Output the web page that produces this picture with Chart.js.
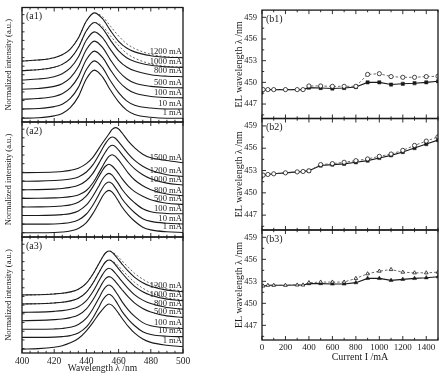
<!DOCTYPE html>
<html><head><meta charset="utf-8">
<script src="https://cdn.jsdelivr.net/npm/chart.js@4.4.0/dist/chart.umd.min.js"></script>
<style>
html,body{margin:0;padding:0;background:#fff;}
#wrap{position:relative;width:445px;height:378px;overflow:hidden;background:#fff;}
canvas{position:absolute;left:0;top:0;width:445px;height:378px;}
</style>
</head><body><div id="wrap">
<canvas id="a1" width="445" height="378"></canvas>
<canvas id="a2" width="445" height="378"></canvas>
<canvas id="a3" width="445" height="378"></canvas>
<canvas id="b1" width="445" height="378"></canvas>
<canvas id="b2" width="445" height="378"></canvas>
<canvas id="b3" width="445" height="378"></canvas>
</div>
<script>
// ---------- spectra (a1) ----------
const a1Wavelength = [400,410,420,425,430,435,440,445,450,455,460,465,470,480,490,500];
const a1Labels = ['1200 mA','1000 mA','800 mA','500 mA','100 mA','10 mA','1 mA'];
const a1_1200 = [6.39,6.49,6.74,7.05,7.65,8.81,10.58,11.44,10.83,9.57,8.46,7.75,7.35,6.95,6.79,6.74];
const a1_1000 = [5.38,5.48,5.73,6.04,6.64,7.80,9.57,10.43,9.82,8.56,7.45,6.74,6.34,5.94,5.78,5.73];
const a1_800  = [4.40,4.50,4.75,5.06,5.66,6.82,8.59,9.45,8.84,7.58,6.47,5.76,5.36,4.96,4.80,4.75];
const a1_500  = [3.43,3.51,3.73,4.01,4.62,5.78,7.60,8.48,7.82,6.49,5.32,4.54,4.09,3.73,3.61,3.58];
const a1_100  = [2.38,2.46,2.68,2.96,3.57,4.73,6.55,7.43,6.77,5.44,4.27,3.49,3.04,2.68,2.56,2.53];
const a1_10   = [1.36,1.41,1.61,1.87,2.47,3.63,5.50,6.41,5.70,4.29,3.08,2.22,1.76,1.46,1.36,1.36];
const a1_1    = [0.39,0.44,0.64,0.90,1.50,2.66,4.53,5.44,4.73,3.32,2.11,1.25,0.79,0.49,0.39,0.39];
const a1_1200dash = [6.39,6.49,6.74,7.05,7.65,8.81,10.58,11.44,11.04,10.03,9.02,8.21,7.70,7.10,6.84,6.77];
const a1_1000dash = [5.38,5.48,5.73,6.04,6.64,7.80,9.57,10.43,10.03,9.02,8.01,7.20,6.69,6.09,5.83,5.76];

// ---------- spectra (a2) ----------
const a2Wavelength = [400,410,420,425,430,435,440,444,448,450,452,454,456,458,460,462,466,470,475,480,490,500];
const a2Labels = ['1500 mA','1200 mA','1000 mA','800 mA','500 mA','100 mA','10 mA','1 mA'];
const a2_1500 = [6.71,6.73,6.78,6.83,6.95,7.18,7.65,8.31,9.30,9.81,10.28,10.75,11.22,11.41,11.27,10.89,10.00,9.30,8.64,8.26,7.98,7.74];
const a2_1200 = [5.81,5.83,5.89,5.95,6.06,6.27,6.78,7.52,8.63,9.24,9.79,10.25,10.44,10.30,9.93,9.51,8.68,7.99,7.38,6.97,6.50,6.32];
const a2_1000 = [4.92,4.94,5.00,5.06,5.18,5.39,5.90,6.64,7.76,8.36,8.92,9.38,9.57,9.43,9.06,8.64,7.80,7.11,6.50,6.08,5.62,5.43];
const a2_800  = [4.03,4.04,4.08,4.12,4.21,4.39,4.85,5.63,6.77,7.36,7.95,8.41,8.59,8.41,8.04,7.59,6.67,5.95,5.35,4.94,4.49,4.30];
const a2_500  = [3.13,3.14,3.18,3.24,3.35,3.62,4.29,5.23,6.39,6.97,7.41,7.59,7.41,7.05,6.61,6.12,5.32,4.74,4.25,3.89,3.53,3.40];
const a2_100  = [2.24,2.24,2.28,2.33,2.44,2.72,3.34,4.26,5.41,6.02,6.46,6.64,6.46,6.02,5.54,5.01,4.18,3.56,2.94,2.64,2.46,2.42];
const a2_10   = [1.34,1.34,1.36,1.41,1.52,1.78,2.40,3.32,4.51,5.12,5.56,5.74,5.56,5.12,4.60,4.02,3.19,2.53,1.91,1.63,1.43,1.36];
const a2_1    = [0.45,0.45,0.47,0.52,0.63,0.89,1.51,2.44,3.63,4.25,4.69,4.87,4.69,4.25,3.72,3.15,2.31,1.64,1.02,0.74,0.54,0.47];

// ---------- spectra (a3) ----------
const a3Wavelength = [400,410,420,425,430,435,440,444,448,450,452,454,456,458,460,462,466,470,475,480,490,500];
const a3Labels = ['1200 mA','1000 mA','800 mA','500 mA','100 mA','10 mA','1 mA'];
const a3_1200 = [6.00,6.03,6.11,6.18,6.32,6.59,7.23,8.14,9.32,9.91,10.37,10.55,10.41,10.05,9.64,9.23,8.46,7.82,7.27,6.91,6.50,6.34];
const a3_1000 = [5.07,5.10,5.18,5.25,5.39,5.66,6.30,7.21,8.39,8.98,9.44,9.62,9.48,9.12,8.71,8.30,7.53,6.89,6.34,5.98,5.57,5.41];
const a3_800  = [4.20,4.23,4.31,4.38,4.52,4.79,5.43,6.34,7.52,8.11,8.57,8.76,8.61,8.25,7.84,7.43,6.66,6.02,5.47,5.11,4.70,4.54];
const a3_500  = [3.34,3.37,3.45,3.52,3.66,3.93,4.57,5.48,6.66,7.25,7.71,7.90,7.75,7.39,6.98,6.57,5.80,5.16,4.61,4.25,3.84,3.68];
const a3_100  = [2.45,2.45,2.49,2.54,2.66,2.95,3.60,4.56,5.75,6.39,6.85,7.03,6.85,6.39,5.89,5.34,4.47,3.78,3.14,2.82,2.61,2.54];
const a3_10   = [1.62,1.62,1.64,1.69,1.80,2.07,2.69,3.62,4.82,5.45,5.89,6.07,5.89,5.45,4.91,4.33,3.49,2.82,2.20,1.91,1.73,1.69];
const a3_1    = [0.40,0.45,0.60,0.75,1.05,1.50,2.30,3.15,4.10,4.50,4.88,5.07,4.92,4.55,4.10,3.62,2.75,2.05,1.45,1.10,0.80,0.65];
const a3_1200dash = [6.00,6.03,6.11,6.18,6.32,6.59,7.23,8.14,9.32,9.91,10.37,10.55,10.46,10.23,9.91,9.55,8.87,8.23,7.64,7.18,6.64,6.41];
const a3_1000dash = [5.07,5.10,5.18,5.25,5.39,5.66,6.30,7.21,8.39,8.98,9.44,9.62,9.53,9.30,8.98,8.62,7.94,7.30,6.71,6.25,5.71,5.48];

// ---------- EL peak wavelength vs current (b1-b3) ----------
const bCurrent = [1,10,50,100,200,300,350,400,500,600,700,800,900,1000,1100,1200,1300,1400,1500];
const bXTicks = [0,200,400,600,800,1000,1200,1400];
const bYTicks = [447,450,453,456,459];
const b1Open   = [448.3,449.0,449.0,449.0,449.0,449.0,449.0,449.5,449.5,449.45,449.45,449.45,451.1,451.2,450.8,450.7,450.7,450.8,450.85];
const b1Filled = [448.3,449.0,449.0,449.0,449.0,449.0,449.0,449.27,449.22,449.15,449.22,449.35,450.0,450.0,449.7,449.8,449.88,450.0,450.15];
const b2Open   = [451.9,452.38,452.47,452.56,452.69,452.82,452.87,452.96,453.8,453.93,454.11,454.33,454.56,454.91,455.22,455.71,456.38,456.96,457.53];
const b2Filled = [451.9,452.38,452.47,452.56,452.69,452.82,452.87,452.96,453.67,453.8,453.89,454.11,454.33,454.69,455.04,455.49,456.02,456.56,457.09];
const b3Open   = [452.15,452.37,452.46,452.46,452.46,452.5,452.5,452.82,452.9,452.9,452.9,453.4,454.03,454.39,454.61,454.25,454.16,454.16,454.25];
const b3Filled = [452.15,452.37,452.46,452.46,452.46,452.5,452.5,452.69,452.69,452.64,452.64,452.82,453.4,453.4,453.13,453.27,453.4,453.49,453.63];

Chart.defaults.font.family = '"Liberation Serif","DejaVu Serif",serif';
Chart.defaults.color = '#222';
const INK = '#1a1a1a';

function pts(xs, ys) { return xs.map((x, i) => ({x: x, y: ys[i]})); }

const frameTicks = {
  id: 'frameTicks',
  afterDatasetsDraw(chart, args, o) {
    const ctx = chart.ctx, a = chart.chartArea, x = chart.scales.x, y = chart.scales.y;
    ctx.save();
    ctx.strokeStyle = INK; ctx.lineWidth = 0.9;
    ctx.beginPath();
    for (let v = x.min; v <= x.max + 1e-6; v += o.xMinor) {
      const px = x.getPixelForValue(v);
      const r = (v - x.min) / o.xMajor;
      const len = Math.abs(r - Math.round(r)) < 1e-6 ? 4 : 2.2;
      ctx.moveTo(px, a.bottom); ctx.lineTo(px, a.bottom - len);
      ctx.moveTo(px, a.top); ctx.lineTo(px, a.top + len);
    }
    for (let v = o.yStart; v <= y.max + 1e-6; v += o.yMinor) {
      const py = y.getPixelForValue(v);
      let len = 2.5;
      if (o.yMajor) { const r = (v - o.yMajorStart) / o.yMajor; len = Math.abs(r - Math.round(r)) < 1e-6 ? 4 : 2.2; }
      ctx.moveTo(a.left, py); ctx.lineTo(a.left + len, py);
    }
    ctx.stroke();
    ctx.lineWidth = 1.3;
    ctx.strokeRect(a.left, a.top, a.right - a.left, a.bottom - a.top);
    ctx.fillStyle = INK;
    ctx.textBaseline = 'middle'; ctx.textAlign = 'left';
    ctx.font = '10px "Liberation Serif"';
    ctx.fillText(o.panel, a.left + 4, a.top + 9);
    if (o.labels) {
      ctx.font = '8.6px "Liberation Serif"'; ctx.textAlign = 'right';
      o.labels.forEach((lab, i) => {
        const d = chart.data.datasets[i].data;
        ctx.fillText(lab, a.right - 1, y.getPixelForValue(d[d.length - 1].y) - 5.5);
      });
    }
    ctx.restore();
  }
};

function makeSpectra(id, pad, wl, solids, dashes, labels, panel, bottom) {
  const datasets = solids.map(v => ({data: pts(wl, v), borderColor: INK, borderWidth: 1.1, pointRadius: 0, cubicInterpolationMode: 'monotone', fill: false}));
  dashes.forEach(v => datasets.push({data: pts(wl, v), borderColor: '#555', borderWidth: 0.9, borderDash: [2, 2], pointRadius: 0, cubicInterpolationMode: 'monotone', fill: false}));
  new Chart(document.getElementById(id), {
    type: 'line',
    data: {datasets},
    options: {
      responsive: false, devicePixelRatio: 1, animation: false,
      layout: {padding: pad},
      plugins: {legend: {display: false}, tooltip: {enabled: false},
        frameTicks: {xMinor: 5, xMajor: 20, yStart: 0.45, yMinor: 0.9, yMajor: null, panel: panel, labels: labels}},
      scales: {
        x: {type: 'linear', min: 400, max: 500, display: bottom,
            grid: {display: false, drawTicks: false}, border: {display: false},
            ticks: {stepSize: 20, font: {size: 9.5}, padding: 3, maxRotation: 0, color: INK, callback: v => String(v)},
            title: {display: true, text: 'Wavelength λ /nm', font: {size: 9.5}, padding: {top: 0, bottom: 4}, color: INK},
            afterFit: s => { s.height = bottom ? 25 : 0; }},
        y: {type: 'linear', min: 0, max: 12,
            grid: {display: false, drawTicks: false}, border: {display: false},
            ticks: {display: false},
            title: {display: true, text: 'Normalized intensity (a.u.)', font: {size: 8.5}, padding: {top: 4, bottom: 0}, color: INK},
            afterFit: s => { s.width = 22; }}
      }
    },
    plugins: [frameTicks]
  });
}

function makeShift(id, pad, openVals, fillVals, tri, panel, bottom) {
  const datasets = [
    {data: pts(bCurrent, openVals), borderColor: '#444', borderWidth: 0.8, borderDash: [2.5, 2],
     pointStyle: tri ? 'triangle' : 'circle', pointRadius: c => c.dataIndex === 0 ? 0 : 2.1,
     pointBackgroundColor: '#fff', pointBorderColor: INK, pointBorderWidth: 0.8, tension: 0},
    {data: pts(bCurrent, fillVals), borderColor: INK, borderWidth: 1.1,
     pointStyle: tri ? 'triangle' : 'rect', pointRadius: c => bCurrent[c.dataIndex] < 400 ? 0 : 2.3,
     pointBackgroundColor: INK, pointBorderColor: INK, pointBorderWidth: 0.5, tension: 0}
  ];
  new Chart(document.getElementById(id), {
    type: 'line',
    data: {datasets},
    options: {
      responsive: false, devicePixelRatio: 1, animation: false,
      layout: {padding: pad},
      plugins: {legend: {display: false}, tooltip: {enabled: false},
        frameTicks: {xMinor: 100, xMajor: 200, yStart: 445.5, yMinor: 1.5, yMajorStart: 447, yMajor: 3, panel: panel}},
      scales: {
        x: {type: 'linear', min: 0, max: 1500, display: bottom,
            grid: {display: false, drawTicks: false}, border: {display: false},
            afterBuildTicks: s => { s.ticks = bXTicks.map(v => ({value: v})); },
            ticks: {font: {size: 9}, padding: 2, maxRotation: 0, autoSkip: false, color: INK, callback: v => String(v)},
            title: {display: true, text: '\u2003\u2003Current I /mA', font: {size: 10}, padding: {top: 0, bottom: 15}, color: INK},
            afterFit: s => { s.height = bottom ? 38 : 0; }},
        y: {type: 'linear', min: 445, max: 460,
            grid: {display: false, drawTicks: false}, border: {display: false},
            afterBuildTicks: s => { s.ticks = bYTicks.map(v => ({value: v})); },
            ticks: {font: {size: 8.5}, padding: 5, color: INK, callback: v => String(v)},
            title: {display: true, text: 'EL wavelength λ /nm', font: {size: 10}, padding: {top: 1.3, bottom: 0}, color: INK},
            afterFit: s => { s.width = 30; }}
      }
    },
    plugins: [frameTicks]
  });
}

makeSpectra('a1', {left: 0, top: 7.5, right: 262, bottom: 256}, a1Wavelength,
  [a1_1200, a1_1000, a1_800, a1_500, a1_100, a1_10, a1_1], [a1_1200dash, a1_1000dash], a1Labels, '(a1)', false);
makeSpectra('a2', {left: 0, top: 122, right: 262, bottom: 141}, a2Wavelength,
  [a2_1500, a2_1200, a2_1000, a2_800, a2_500, a2_100, a2_10, a2_1], [], a2Labels, '(a2)', false);
makeSpectra('a3', {left: 0, top: 237, right: 262, bottom: 0}, a3Wavelength,
  [a3_1200, a3_1000, a3_800, a3_500, a3_100, a3_10, a3_1], [a3_1200dash, a3_1000dash], a3Labels, '(a3)', true);

makeShift('b1', {left: 232, top: 6.5, right: 7, bottom: 259.5}, b1Open, b1Filled, false, '(b1)', false);
makeShift('b2', {left: 232, top: 118.5, right: 7, bottom: 148}, b2Open, b2Filled, false, '(b2)', false);
makeShift('b3', {left: 232, top: 230, right: 7, bottom: 0}, b3Open, b3Filled, true, '(b3)', true);
</script>
</body></html>
